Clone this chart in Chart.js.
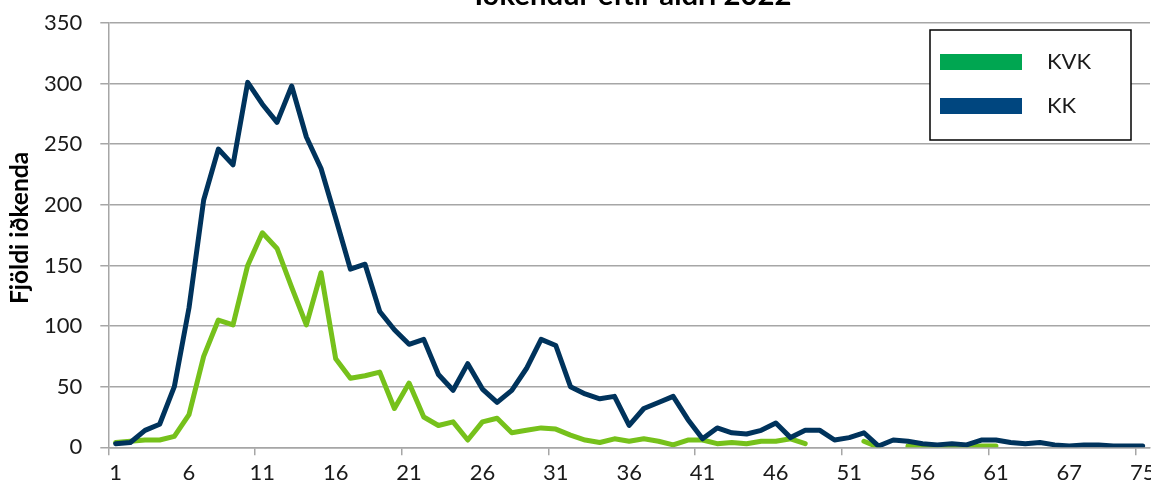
<!DOCTYPE html>
<html>
<head>
<meta charset="utf-8">
<script src="https://cdn.jsdelivr.net/npm/chart.js@4.4.1/dist/chart.umd.min.js"></script>
<style>
  html, body { margin: 0; padding: 0; background: #fff; }
  #wrap { width: 1151px; height: 493px; position: relative; overflow: hidden; }
</style>
</head>
<body>
<div id="wrap"><canvas id="ageChart" width="1151" height="493"></canvas></div>
<script>
// ages on the x axis (the oldest ages are not all present)
const ages = [];
for (let a = 1; a <= 61; a++) ages.push(String(a));
ages.push('62', '63', '64', '65', '67', '68', '69', '70', '72', '75');

// number of participants per age
const kvk = [4, 5, 6, 6, 9, 27, 75, 105, 101, 150,
  177, 164, 132, 101, 144, 73, 57, 59, 62, 32,
  53, 25, 18, 21, 6, 21, 24, 12, 14, 16,
  15, 10, 6, 4, 7, 5, 7, 5, 2, 6,
  6, 3, 4, 3, 5, 5, 7, 3, null, null,
  null, 5, 0, null, 1, 0, 0, 1, 0, 1,
  1, null, null, null, null, null, null, null, null, null, null];
const kk = [3, 4, 14, 19, 50, 115, 204, 246, 233, 301,
  283, 268, 298, 256, 230, 189, 147, 151, 112, 97,
  85, 89, 60, 47, 69, 48, 37, 47, 65, 89,
  84, 50, 44, 40, 42, 18, 32, 37, 42, 23,
  7, 16, 12, 11, 14, 20, 8, 14, 14, 6,
  8, 12, 1, 6, 5, 3, 2, 3, 2, 6,
  6, 4, 3, 4, 2, 1, 2, 2, 1, 1, 1];

const yTicks = [0, 50, 100, 150, 200, 250, 300, 350];
const chartTitle = 'Iðkendur eftir aldri 2022';
const yTitle = 'Fjöldi iðkenda';

const gridGray = '#A6A6A6';
const font = 'Lato';

// bold text scaled so it spans the given width
function fitBold(ctx, text, width) {
  ctx.font = 'bold 20px ' + font;
  const size = 20 * width / ctx.measureText(text).width;
  ctx.font = 'bold ' + size.toFixed(1) + 'px ' + font;
}

// title (cut by the top edge), rotated axis title and the boxed legend
const decorations = {
  id: 'decorations',
  afterDraw(chart) {
    const ctx = chart.ctx;
    ctx.save();
    ctx.fillStyle = '#000';
    ctx.textAlign = 'center';
    ctx.textBaseline = 'alphabetic';
    fitBold(ctx, chartTitle, 317);
    ctx.fillText(chartTitle, 633, 5);

    ctx.save();
    ctx.translate(20, 228);
    ctx.rotate(-Math.PI / 2);
    fitBold(ctx, yTitle, 152);
    ctx.textBaseline = 'middle';
    ctx.fillText(yTitle, 0, 0);
    ctx.restore();

    // legend
    ctx.fillStyle = '#fff';
    ctx.fillRect(930, 30, 201, 110);
    ctx.strokeStyle = '#000';
    ctx.lineWidth = 1.5;
    ctx.strokeRect(930, 30, 201, 110);
    const items = [['KVK', '#00A651', 62], ['KK', '#00467F', 106]];
    ctx.font = '22px ' + font;
    ctx.textAlign = 'left';
    ctx.textBaseline = 'middle';
    items.forEach(([label, color, y]) => {
      ctx.fillStyle = color;
      ctx.fillRect(940, y - 8, 82, 16);
      ctx.fillStyle = '#1a1a1a';
      ctx.fillText(label, 1047, y);
    });
    ctx.restore();
  }
};

const ctx = document.getElementById('ageChart').getContext('2d');
const ageChart = new Chart(ctx, {
  type: 'line',
  data: {
    labels: ages,
    datasets: [{
      label: 'KVK',
      data: kvk,
      borderColor: '#76C11B',
      borderWidth: 5,
      order: 1
    }, {
      label: 'KK',
      data: kk,
      borderColor: '#00335C',
      borderWidth: 5,
      order: 0
    }]
  },
  options: {
    responsive: false,
    animation: false,
    layout: { padding: { top: 23, right: 1, left: 0, bottom: 0 } },
    elements: {
      point: { radius: 0 },
      line: { tension: 0, borderJoinStyle: 'round', borderCapStyle: 'round' }
    },
    plugins: {
      legend: { display: false },
      tooltip: { enabled: false }
    },
    scales: {
      x: {
        offset: true,
        border: { color: gridGray, width: 1.5 },
        grid: {
          offset: true,
          drawOnChartArea: false,
          drawTicks: true,
          tickLength: 8,
          lineWidth: 1.5,
          color: c => (c.index % 10 === 0 ? gridGray : 'rgba(0,0,0,0)')
        },
        ticks: {
          autoSkip: false,
          maxRotation: 0,
          padding: 4,
          color: '#1a1a1a',
          font: { family: font, size: 22 },
          callback: (v, i) => (i % 5 === 0 ? ages[i] : '')
        },
        afterFit: s => { s.height = 45.7; s.paddingLeft = 0; s.paddingRight = 0; }
      },
      y: {
        min: 0,
        max: 350,
        afterBuildTicks: s => { s.ticks = yTicks.map(v => ({ value: v })); },
        border: { color: gridGray, width: 1.5 },
        grid: { color: gridGray, lineWidth: 1.5, tickLength: 8 },
        ticks: {
          padding: 18,
          color: '#1a1a1a',
          font: { family: font, size: 22 }
        },
        afterFit: s => { s.width = 108.3; s.paddingTop = 0; s.paddingBottom = 0; }
      }
    }
  },
  plugins: [decorations]
});
</script>
</body>
</html>
